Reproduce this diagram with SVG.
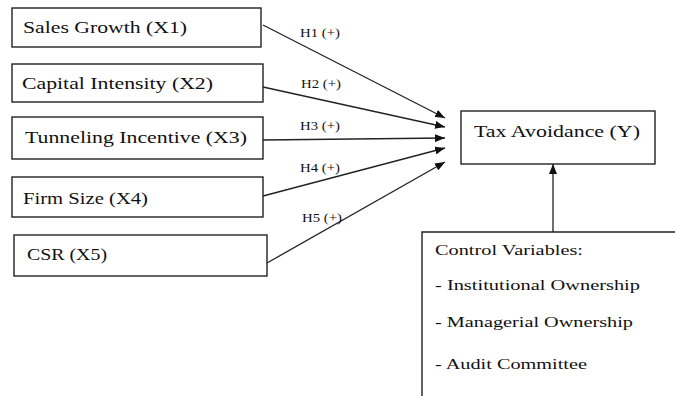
<svg xmlns="http://www.w3.org/2000/svg" width="675" height="396" viewBox="0 0 675 396">
<style>
.box{fill:#fff;stroke:#222;stroke-width:1.4}
.t{font-family:"Liberation Serif","DejaVu Serif",serif;font-size:17px;fill:#111}
.s{font-family:"Liberation Serif","DejaVu Serif",serif;font-size:15px;fill:#111}
.h{font-family:"Liberation Serif","DejaVu Serif",serif;font-size:12px;fill:#111}
.c{stroke:#222;stroke-width:1.3;fill:none;marker-end:url(#ah)}
</style>
<defs>
<marker id="ah" viewBox="0 0 10 8" refX="10" refY="4" markerWidth="10" markerHeight="8" markerUnits="userSpaceOnUse" orient="auto">
<path d="M0,0 L10,4 L0,8 Z" fill="#111"/>
</marker>
</defs>
<rect width="675" height="396" fill="#fff"/>
<g id="connectors">
<line class="c" x1="263" y1="25" x2="445" y2="118"/>
<line class="c" x1="263" y1="87" x2="445" y2="127"/>
<line class="c" x1="263" y1="140" x2="445" y2="138"/>
<line class="c" x1="263" y1="196" x2="445" y2="148"/>
<line class="c" x1="267" y1="263" x2="445" y2="162"/>
<line class="c" x1="553" y1="232" x2="553" y2="164"/>
<text class="h" x="300" y="37" textLength="40" lengthAdjust="spacingAndGlyphs">H1 (+)</text>
<text class="h" x="301" y="88" textLength="40" lengthAdjust="spacingAndGlyphs">H2 (+)</text>
<text class="h" x="300" y="130" textLength="40" lengthAdjust="spacingAndGlyphs">H3 (+)</text>
<text class="h" x="300" y="172" textLength="40" lengthAdjust="spacingAndGlyphs">H4 (+)</text>
<text class="h" x="302" y="222" textLength="40" lengthAdjust="spacingAndGlyphs">H5 (+)</text>
</g>
<g id="x1">
<rect class="box" x="12" y="8" width="249" height="39"/>
<text class="t" x="23" y="33" textLength="164" lengthAdjust="spacingAndGlyphs">Sales Growth (X1)</text>
</g>
<g id="x2">
<rect class="box" x="12" y="64" width="251" height="38"/>
<text class="t" x="22" y="89" textLength="191" lengthAdjust="spacingAndGlyphs">Capital Intensity (X2)</text>
</g>
<g id="x3">
<rect class="box" x="12" y="117" width="251" height="42"/>
<text class="t" x="25" y="143" textLength="222" lengthAdjust="spacingAndGlyphs">Tunneling Incentive (X3)</text>
</g>
<g id="x4">
<rect class="box" x="12" y="177" width="251" height="40"/>
<text class="t" x="23" y="204" textLength="125" lengthAdjust="spacingAndGlyphs">Firm Size (X4)</text>
</g>
<g id="x5">
<rect class="box" x="14" y="235" width="253" height="41"/>
<text class="t" x="27" y="260" textLength="80" lengthAdjust="spacingAndGlyphs">CSR (X5)</text>
</g>
<g id="y">
<rect class="box" x="461" y="111" width="194" height="53"/>
<text class="t" x="474" y="137" textLength="166" lengthAdjust="spacingAndGlyphs">Tax Avoidance (Y)</text>
</g>
<g id="controls">
<path d="M422,400 L422,232 L680,232" fill="#fff" stroke="#222" stroke-width="1.4"/>
<text class="s" x="435" y="255" textLength="148" lengthAdjust="spacingAndGlyphs">Control Variables:</text>
<text class="s" x="435" y="290" textLength="205" lengthAdjust="spacingAndGlyphs">- Institutional Ownership</text>
<text class="s" x="435" y="327" textLength="198" lengthAdjust="spacingAndGlyphs">- Managerial Ownership</text>
<text class="s" x="435" y="369" textLength="152" lengthAdjust="spacingAndGlyphs">- Audit Committee</text>
</g>
</svg>
